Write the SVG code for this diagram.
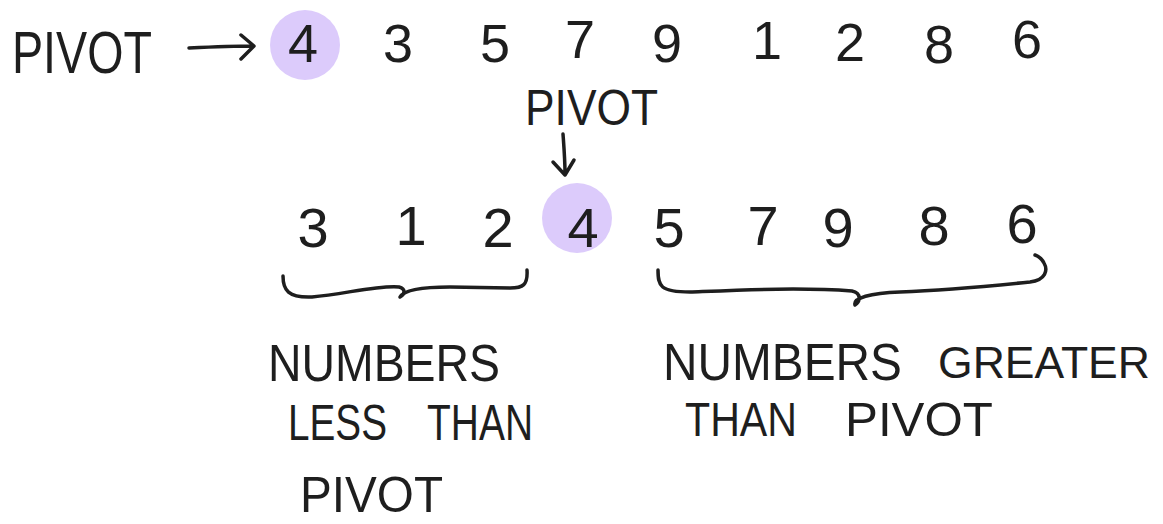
<svg xmlns="http://www.w3.org/2000/svg" width="1163" height="524" viewBox="0 0 1163 524">
<style>
text{font-family:"Liberation Sans","DejaVu Sans",sans-serif;fill:#1e1e1e;text-anchor:middle}
.d{font-size:54px}
.d2{font-size:56px}
.lbl{text-anchor:start}
.hl{fill:#dccbfb}
.ln{fill:none;stroke:#1e1e1e;stroke-width:3.5;stroke-linecap:round;stroke-linejoin:round}
</style>
<rect width="1163" height="524" fill="#ffffff"/>
<g id="pivot-label-top"><text class="lbl" x="12" y="73" font-size="60" textLength="140" lengthAdjust="spacingAndGlyphs">PIVOT</text></g>
<g id="top-array">
<circle class="hl" cx="305" cy="45" r="35"/>
<text class="d" x="303" y="62">4</text>
<text class="d" x="398" y="62">3</text>
<text class="d" x="495" y="62">5</text>
<text class="d" x="580" y="58">7</text>
<text class="d" x="667" y="62">9</text>
<text class="d" x="767" y="59">1</text>
<text class="d" x="850" y="61">2</text>
<text class="d" x="939" y="63">8</text>
<text class="d" x="1027" y="58">6</text>
</g>
<g id="pivot-label-mid"><text class="lbl" x="525" y="125" font-size="50" textLength="133" lengthAdjust="spacingAndGlyphs">PIVOT</text></g>
<g id="partitioned-array">
<circle class="hl" cx="577" cy="218" r="35"/>
<text class="d2" x="583" y="247">4</text>
<text class="d2" x="313" y="247">3</text>
<text class="d2" x="411" y="245">1</text>
<text class="d2" x="498" y="247">2</text>
<text class="d2" x="669" y="247">5</text>
<text class="d2" x="763" y="245">7</text>
<text class="d2" x="838" y="247">9</text>
<text class="d2" x="934" y="245">8</text>
<text class="d2" x="1022" y="243">6</text>
</g>
<g id="less-label">
<text class="lbl" x="268" y="381" font-size="52" textLength="232" lengthAdjust="spacingAndGlyphs">NUMBERS</text>
<text class="lbl" x="288" y="440" font-size="50" textLength="99" lengthAdjust="spacingAndGlyphs">LESS</text>
<text class="lbl" x="427" y="440" font-size="50" textLength="106" lengthAdjust="spacingAndGlyphs">THAN</text>
<text class="lbl" x="300" y="512" font-size="50" textLength="143" lengthAdjust="spacingAndGlyphs">PIVOT</text>
</g>
<g id="greater-label">
<text class="lbl" x="663" y="380" font-size="52" textLength="239" lengthAdjust="spacingAndGlyphs">NUMBERS</text>
<text class="lbl" x="938" y="378" font-size="45" textLength="212" lengthAdjust="spacingAndGlyphs">GREATER</text>
<text class="lbl" x="685" y="436" font-size="48" textLength="112" lengthAdjust="spacingAndGlyphs">THAN</text>
<text class="lbl" x="845" y="436" font-size="48" textLength="148" lengthAdjust="spacingAndGlyphs">PIVOT</text>
</g>
<g id="connectors">
<path class="ln" d="M189,48 C210,47 235,46 253,46 M241,35 L254,46 L241,59"/>
<path class="ln" d="M563,134 C564,148 565,160 565,173 M553,162 L565,175 L574,160"/>
<path class="ln" d="M283,276 C283,290 288,298 312,297 C345,294 378,285 399,287 C406,289 405,294 400,297 C404,290 420,287 450,287 L510,288 C523,288 528,285 527,270"/>
<path class="ln" d="M658,270 C658,286 660,292 690,292 C740,290 800,287 852,291 C862,293 860,302 855,305 C853,298 870,293 900,292 C950,290 1000,285 1030,282 C1046,280 1048,270 1044,263 C1042,259 1038,256 1035,255"/>
</g>
</svg>
